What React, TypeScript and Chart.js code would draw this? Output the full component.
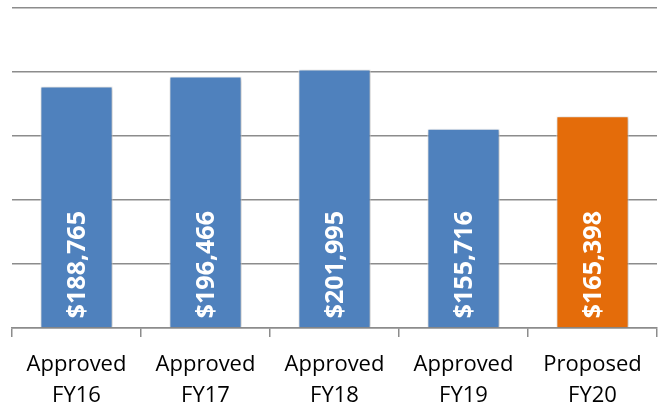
import React, { useEffect, useRef } from "react";
import { Chart, registerables } from "chart.js";

Chart.register(...registerables);

const categories: string[][] = [
  ["Approved", "FY16"],
  ["Approved", "FY17"],
  ["Approved", "FY18"],
  ["Approved", "FY19"],
  ["Proposed", "FY20"],
];
const values: number[] = [188765, 196466, 201995, 155716, 165398];
const barColors: string[] = ["#4F81BD", "#4F81BD", "#4F81BD", "#4F81BD", "#E46C0A"];

const fmt = (v: number) => "$" + v.toLocaleString("en-US");

const shadowPlugin = {
  id: "barShadow",
  beforeDatasetsDraw(chart: any) {
    const ctx = chart.ctx;
    ctx.save();
    ctx.shadowColor = "rgba(0,0,0,0.28)";
    ctx.shadowBlur = 4;
    ctx.shadowOffsetX = 1;
    ctx.shadowOffsetY = 1;
  },
  afterDatasetsDraw(chart: any) {
    const ctx = chart.ctx;
    ctx.restore();
    const meta = chart.getDatasetMeta(0);
    ctx.save();
    ctx.fillStyle = "#FFFFFF";
    ctx.font = "bold 25px 'Open Sans'";
    ctx.textAlign = "left";
    ctx.textBaseline = "middle";
    meta.data.forEach((bar: any, i: number) => {
      ctx.save();
      ctx.translate(bar.x + 1, bar.base - 9);
      ctx.rotate(-Math.PI / 2);
      ctx.fillText(fmt(values[i]), 0, 0);
      ctx.restore();
    });
    ctx.restore();
  },
};

export default function App() {
  const ref = useRef<HTMLCanvasElement | null>(null);
  useEffect(() => {
    document.body.style.margin = "0";
    if (!ref.current) return;
    const chart = new Chart(ref.current, {
      type: "bar",
      data: {
        labels: categories,
        datasets: [
          {
            data: values,
            backgroundColor: barColors,
            borderColor: "#FFFFFF",
            borderWidth: 1,
            categoryPercentage: 1,
            barPercentage: 0.56,
          },
        ],
      },
      options: {
        animation: false,
        responsive: false,
        layout: { padding: { top: 8, left: 12, right: 10, bottom: 0 } },
        plugins: { legend: { display: false }, tooltip: { enabled: false } },
        scales: {
          x: {
            afterFit(scale: any) {
              scale.height = 80;
            },
            grid: {
              display: true,
              drawOnChartArea: false,
              drawTicks: true,
              tickLength: 9,
              offset: true,
              color: "#8C8C8C",
              lineWidth: 1.5,
            },
            border: { display: true, color: "#8C8C8C", width: 1.5 },
            ticks: {
              color: "#000000",
              padding: 12,
              font: { family: "'Open Sans'", size: 22, lineHeight: 31 / 22 },
              maxRotation: 0,
              autoSkip: false,
            },
          },
          y: {
            min: 0,
            max: 250000,
            ticks: { display: false, stepSize: 50000 },
            grid: { color: "#8C8C8C", lineWidth: 1.5, drawTicks: false },
            border: { display: false },
          },
        },
      },
      plugins: [shadowPlugin],
    });
    return () => chart.destroy();
  }, []);
  return (
    <div style={{ width: 667, height: 408 }}>
      <canvas ref={ref} width={667} height={408} style={{ display: "block" }} />
    </div>
  );
}
